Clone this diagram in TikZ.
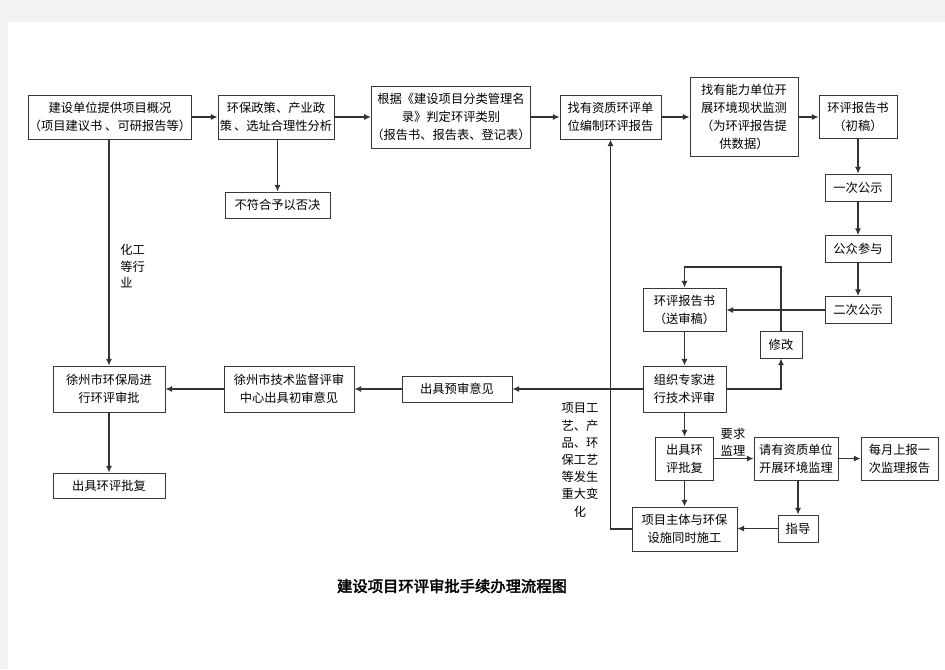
\documentclass[tikz,border=0pt]{standalone}
\usepackage{fontspec}
\usetikzlibrary{arrows.meta}
\newfontfamily\cjk[AutoFakeBold=2.5]{Noto Sans CJK SC}
\begin{document}
\begin{tikzpicture}[x=0.75pt,y=-0.75pt,
  box/.style={draw=black!78,line width=0.7pt,fill=white,inner sep=0pt,align=center,
    font=\cjk\fontsize{9.2pt}{13.5pt}\selectfont},
  arr/.style={draw=black!80,line width=0.8pt,-{Latex[length=5pt,width=4.5pt]}},
  lbl/.style={inner sep=0pt,font=\cjk\fontsize{9.2pt}{12.5pt}\selectfont}]
\fill[black!5] (0,0) rectangle (945,669);
\fill[white] (8,22) rectangle (945,669);
\useasboundingbox (0,0) rectangle (945,669);
% row 1
\node[box,minimum width=160*0.75pt,minimum height=44*0.75pt] (A) at (110,117) {建设单位提供项目概况\\（项目建议书 、可研报告等）};
\node[box,minimum width=116*0.75pt,minimum height=44*0.75pt] (B) at (276,117) {环保政策、产业政\\策\,、选址合理性分析};
\node[box,minimum width=105*0.75pt,minimum height=26*0.75pt] (C) at (277.5,205) {不符合予以否决};
\node[box,minimum width=158*0.75pt,minimum height=62*0.75pt] (D) at (451,117) {根据《建设项目分类管理名\\录》判定环评类别\\（报告书、报告表、登记表）};
\node[box,minimum width=101*0.75pt,minimum height=44*0.75pt] (E) at (610.5,117) {找有资质环评单\\位编制环评报告};
\node[box,minimum width=108*0.75pt,minimum height=79*0.75pt] (F) at (744,117) {找有能力单位开\\展环境现状监测\\（为环评报告提\\供数据）};
\node[box,minimum width=78*0.75pt,minimum height=43*0.75pt] (G) at (858,117) {环评报告书\\（初稿）};
\node[box,minimum width=66*0.75pt,minimum height=27*0.75pt] (H) at (858,187.5) {一次公示};
\node[box,minimum width=66*0.75pt,minimum height=27*0.75pt] (I) at (858,249) {公众参与};
\node[box,minimum width=66*0.75pt,minimum height=27*0.75pt] (J) at (858,310) {二次公示};
\node[box,minimum width=83*0.75pt,minimum height=43*0.75pt] (K) at (684.5,309.5) {环评报告书\\（送审稿）};
\node[box,minimum width=42*0.75pt,minimum height=27*0.75pt] (L) at (781,344.5) {修改};
\node[box,minimum width=83*0.75pt,minimum height=46*0.75pt] (M) at (684.5,389) {组织专家进\\行技术评审};
\node[box,minimum width=112*0.75pt,minimum height=46*0.75pt] (N) at (109,389) {徐州市环保局进\\行环评审批};
\node[box,minimum width=130*0.75pt,minimum height=46*0.75pt] (O) at (289,389) {徐州市技术监督评审\\中心出具初审意见};
\node[box,minimum width=112*0.75pt,minimum height=25*0.75pt] (P) at (109,485.5) {出具环评批复};
\node[box,minimum width=110*0.75pt,minimum height=26*0.75pt] (Q) at (457,389) {出具预审意见};
\node[box,minimum width=58*0.75pt,minimum height=43*0.75pt] (R) at (684.5,458.5) {出具环\\评批复};
\node[box,minimum width=84*0.75pt,minimum height=43*0.75pt] (S) at (796,458.5) {请有资质单位\\开展环境监理};
\node[box,minimum width=77*0.75pt,minimum height=43*0.75pt] (T) at (899.5,458.5) {每月上报一\\次监理报告};
\node[box,minimum width=105*0.75pt,minimum height=44*0.75pt] (U) at (684.5,529) {项目主体与环保\\设施同时施工};
\node[box,minimum width=40*0.75pt,minimum height=27*0.75pt] (V) at (798,528.5) {指导};
% labels
\node[lbl,align=left,anchor=north west] (la) at (120,244) {化工\\等行\\业};
\node[lbl,align=center] (lb) at (733,442) {要求\\监理};
\node[lbl,align=center,font=\cjk\fontsize{9.2pt}{12.9pt}\selectfont] (lc) at (580,460) {项目工\\艺、产\\品、环\\保工艺\\等发生\\重大变\\化};
\node[inner sep=0pt,font=\cjk\bfseries\fontsize{11.5pt}{14pt}\selectfont] (title) at (452,586) {建设项目环评审批手续办理流程图};
% connectors
\draw[arr] (A.east) -- (B.west);
\draw[arr] (B.east) -- (B.east -| D.west);
\draw[arr] (B.south -| C.north) -- (C.north);
\draw[arr] (D.east) -- (E.west);
\draw[arr] (E.east) -- (E.east -| F.west);
\draw[arr] (F.east |- G.west) -- (G.west);
\draw[arr] (G.south) -- (H.north);
\draw[arr] (H.south) -- (I.north);
\draw[arr] (I.south) -- (J.north);
\draw[arr] (J.west) -- (J.west -| K.east);
\draw[arr] (K.south) -- (M.north);
\draw[arr] (M.east) -| (L.south);
\coordinate (kl) at (684.5,267);
\draw[arr] (L.north) |- (kl) -- (K.north);
\draw[arr] (M.west) -- (Q.east);
\draw[arr] (Q.west) -- (O.east);
\draw[arr] (O.west) -- (N.east);
\draw[arr] (A.south -| N.north) -- (N.north);
\draw[arr] (N.south) -- (P.north);
\draw[arr] (M.south) -- (R.north);
\draw[arr] (R.south) -- (U.north);
\draw[arr] (R.east) -- (S.west);
\draw[arr] (S.east) -- (T.west);
\draw[arr] (S.south -| V.north) -- (V.north);
\draw[arr] (V.west) -- (V.west -| U.east);
\draw[arr] (U.west) -| (E.south);
\end{tikzpicture}
\end{document}
